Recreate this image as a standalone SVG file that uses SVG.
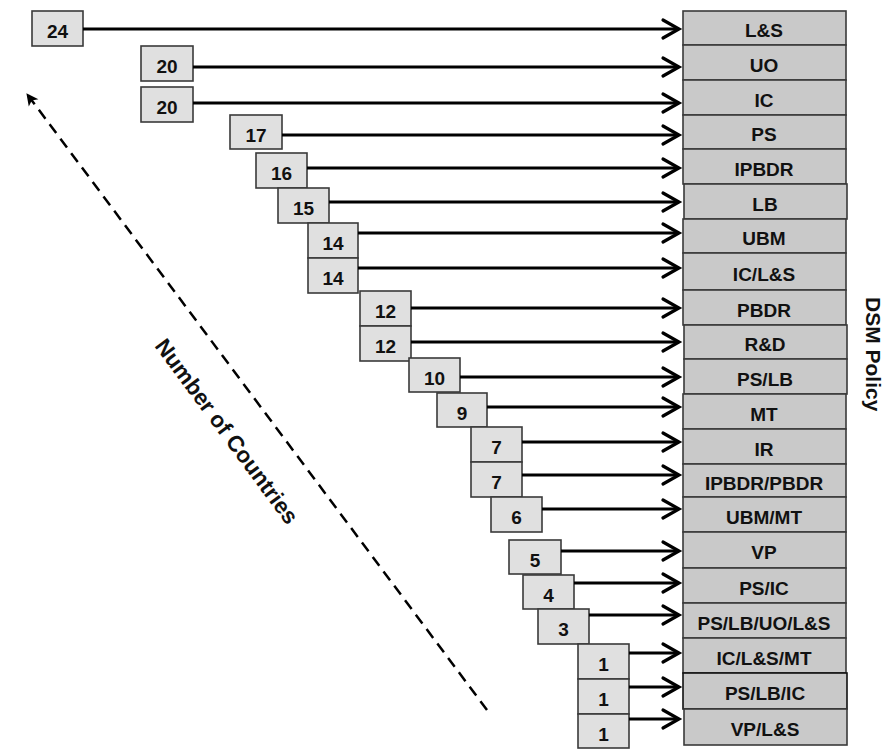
<svg xmlns="http://www.w3.org/2000/svg" width="888" height="749" viewBox="0 0 888 749">
<style>
.cnt rect{fill:#e0e0e0;stroke:#3a3a3a;stroke-width:1.6}
.pol rect{fill:#c9c9c9;stroke:#3a3a3a;stroke-width:1.6}
text{font-family:"Liberation Sans",Arial,sans-serif;font-weight:bold;font-size:19px;fill:#111;text-anchor:middle}
.conn line{stroke:#000;stroke-width:3;marker-end:url(#ah)}
.axis{stroke:#000;stroke-width:2.5;stroke-dasharray:11 7;fill:none}
.lbl{font-size:22.5px;text-anchor:start}
</style>
<defs>
<marker id="ah" markerUnits="userSpaceOnUse" viewBox="-20 -12 24 24" markerWidth="24" markerHeight="24" refX="0" refY="0" orient="auto">
<path d="M-16,-9 L0,0 L-16,9" fill="none" stroke="#000" stroke-width="3.2" stroke-linecap="round"/>
</marker>
<marker id="dh" markerUnits="userSpaceOnUse" viewBox="-14 -8 16 16" markerWidth="16" markerHeight="16" refX="0" refY="0" orient="auto">
<path d="M1,0 L-11,-6 L-8,0 L-11,6 z" fill="#000"/>
</marker>
</defs>

<g id="policies" class="pol">
<g id="p-LS"><rect x="683" y="11" width="163" height="34"/><text x="764" y="37">L&amp;S</text></g>
<g id="p-UO"><rect x="683" y="45" width="163" height="35"/><text x="764" y="72">UO</text></g>
<g id="p-IC"><rect x="683" y="80" width="163" height="35"/><text x="764" y="107">IC</text></g>
<g id="p-PS"><rect x="683" y="115" width="163" height="34"/><text x="764" y="141">PS</text></g>
<g id="p-IPBDR"><rect x="683" y="149" width="163" height="35"/><text x="764" y="176">IPBDR</text></g>
<g id="p-LB"><rect x="684" y="184" width="163" height="35"/><text x="765" y="211">LB</text></g>
<g id="p-UBM"><rect x="683" y="219" width="163" height="34"/><text x="764" y="245">UBM</text></g>
<g id="p-ICLS"><rect x="683" y="253" width="163" height="37"/><text x="764" y="281">IC/L&amp;S</text></g>
<g id="p-PBDR"><rect x="683" y="290" width="163" height="35"/><text x="764" y="317">PBDR</text></g>
<g id="p-RD"><rect x="684" y="325" width="163" height="34"/><text x="765" y="351">R&amp;D</text></g>
<g id="p-PSLB"><rect x="684" y="359" width="163" height="35"/><text x="765" y="386">PS/LB</text></g>
<g id="p-MT"><rect x="683" y="394" width="163" height="35"/><text x="764" y="421">MT</text></g>
<g id="p-IR"><rect x="683" y="429" width="163" height="35"/><text x="764" y="456">IR</text></g>
<g id="p-IPBDRPBDR"><rect x="683" y="464" width="163" height="33"/><text x="764" y="490">IPBDR/PBDR</text></g>
<g id="p-UBMMT"><rect x="683" y="497" width="163" height="35"/><text x="764" y="524">UBM/MT</text></g>
<g id="p-VP"><rect x="683" y="532" width="163" height="36"/><text x="764" y="559">VP</text></g>
<g id="p-PSIC"><rect x="683" y="568" width="163" height="35"/><text x="764" y="595">PS/IC</text></g>
<g id="p-PSLBUOLS"><rect x="683" y="603" width="163" height="35"/><text x="764" y="630">PS/LB/UO/L&amp;S</text></g>
<g id="p-ICLSMT"><rect x="683" y="638" width="163" height="35"/><text x="764" y="665">IC/L&amp;S/MT</text></g>
<g id="p-PSLBIC"><rect x="683" y="673" width="164" height="36" style="stroke:#111"/><text x="765" y="700">PS/LB/IC</text></g>
<g id="p-VPLS"><rect x="684" y="709" width="163" height="36"/><text x="765" y="736">VP/L&amp;S</text></g>
</g>

<g id="counts" class="cnt">
<g id="c24"><rect x="32" y="11" width="51" height="35"/><text x="57.5" y="38">24</text></g>
<g id="c20a"><rect x="141" y="46" width="52" height="35"/><text x="167" y="73">20</text></g>
<g id="c20b"><rect x="141" y="87" width="52" height="35"/><text x="167" y="114">20</text></g>
<g id="c17"><rect x="230" y="115" width="52" height="34"/><text x="256" y="142">17</text></g>
<g id="c16"><rect x="256" y="153" width="51" height="35"/><text x="281.5" y="180">16</text></g>
<g id="c15"><rect x="278" y="188" width="51" height="35"/><text x="303.5" y="215">15</text></g>
<g id="c14a"><rect x="308" y="223" width="50" height="35"/><text x="333" y="250">14</text></g>
<g id="c14b"><rect x="308" y="258" width="50" height="35"/><text x="333" y="285">14</text></g>
<g id="c12a"><rect x="360" y="291" width="51" height="35"/><text x="385.5" y="318">12</text></g>
<g id="c12b"><rect x="360" y="326" width="51" height="35"/><text x="385.5" y="353">12</text></g>
<g id="c10"><rect x="409" y="358" width="51" height="34"/><text x="434.5" y="385">10</text></g>
<g id="c9"><rect x="437" y="393" width="50" height="34"/><text x="462" y="420">9</text></g>
<g id="c7a"><rect x="471" y="427" width="51" height="35"/><text x="496.5" y="454">7</text></g>
<g id="c7b"><rect x="471" y="462" width="51" height="35"/><text x="496.5" y="489">7</text></g>
<g id="c6"><rect x="491" y="497" width="51" height="35"/><text x="516.5" y="524">6</text></g>
<g id="c5"><rect x="509" y="540" width="52" height="34"/><text x="535" y="567">5</text></g>
<g id="c4"><rect x="523" y="575" width="51" height="34"/><text x="548.5" y="602">4</text></g>
<g id="c3"><rect x="538" y="609" width="51" height="35"/><text x="563.5" y="636">3</text></g>
<g id="c1a"><rect x="578" y="644" width="51" height="35"/><text x="603.5" y="671">1</text></g>
<g id="c1b"><rect x="578" y="679" width="51" height="35"/><text x="603.5" y="706">1</text></g>
<g id="c1c"><rect x="578" y="714" width="51" height="34"/><text x="603.5" y="741">1</text></g>
</g>

<g id="connectors" class="conn">
<line x1="83" y1="29" x2="679" y2="29"/>
<line x1="193" y1="67" x2="679" y2="67"/>
<line x1="193" y1="103" x2="679" y2="103"/>
<line x1="282" y1="135" x2="679" y2="135"/>
<line x1="307" y1="168" x2="679" y2="168"/>
<line x1="329" y1="202" x2="679" y2="202"/>
<line x1="358" y1="233" x2="679" y2="233"/>
<line x1="358" y1="268" x2="679" y2="268"/>
<line x1="411" y1="308" x2="679" y2="308"/>
<line x1="411" y1="342" x2="679" y2="342"/>
<line x1="460" y1="377" x2="679" y2="377"/>
<line x1="487" y1="407" x2="679" y2="407"/>
<line x1="522" y1="442" x2="679" y2="442"/>
<line x1="522" y1="475" x2="679" y2="475"/>
<line x1="542" y1="509" x2="679" y2="509"/>
<line x1="561" y1="551" x2="679" y2="551"/>
<line x1="574" y1="583" x2="679" y2="583"/>
<line x1="589" y1="615" x2="679" y2="615"/>
<line x1="629" y1="653" x2="679" y2="653"/>
<line x1="629" y1="687" x2="679" y2="687"/>
<line x1="629" y1="719" x2="679" y2="719"/>
</g>

<g id="axis">
<path class="axis" d="M487,710 L27,94" marker-end="url(#dh)"/>
<text class="lbl" transform="translate(154,346) rotate(53.5)">Number of Countries</text>
</g>

<g id="title">
<text class="lbl" transform="translate(866,297) rotate(90)" style="font-size:21px">DSM Policy</text>
</g>
</svg>
